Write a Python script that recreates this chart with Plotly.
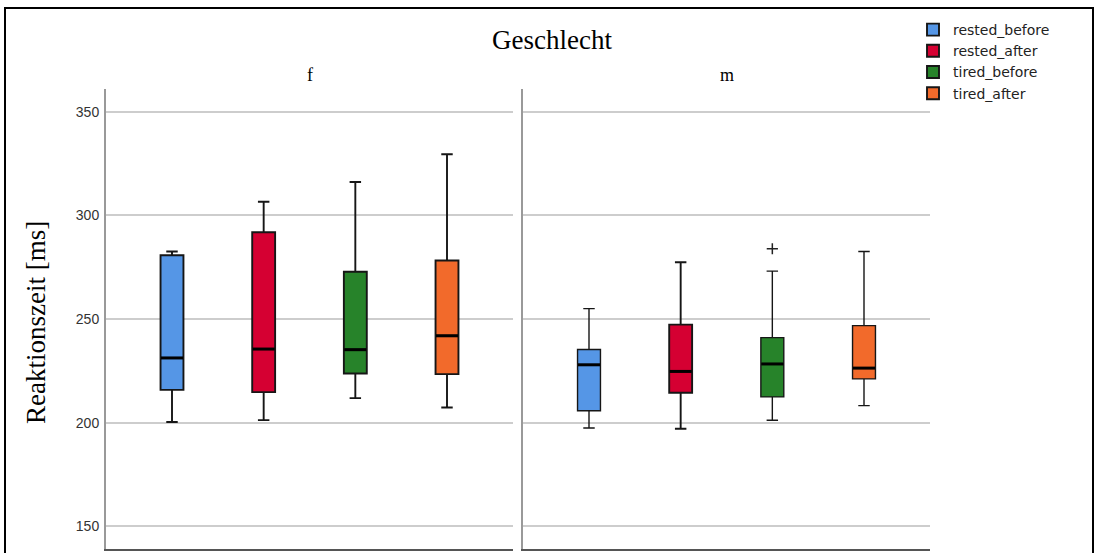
import plotly.graph_objects as go

# ---- data ----
facets = ["f", "m"]
series = ["rested_before", "rested_after", "tired_before", "tired_after"]
colors = ["#5596E6", "#D50032", "#27832A", "#F26A2B"]

# per facet, per series
f_lower = [200.3, 201.2, 211.8, 207.3]
f_q1 = [215.8, 214.7, 223.7, 223.4]
f_median = [231.2, 235.5, 235.2, 241.9]
f_q3 = [280.8, 291.9, 272.8, 278.2]
f_upper = [282.6, 306.6, 316.1, 329.5]

m_lower = [197.4, 197.0, 201.1, 208.2]
m_q1 = [205.7, 214.4, 212.4, 221.1]
m_median = [227.9, 224.7, 228.3, 226.3]
m_q3 = [235.3, 247.3, 241.0, 246.8]
m_upper = [255.0, 277.4, 273.1, 282.6]

# outliers: (facet, series index, value)
outlier_facet = ["m"]
outlier_series = [2]
outlier_value = [283.9]

y_ticks = [150, 200, 250, 300, 350]

stats = {
    "f": (f_lower, f_q1, f_median, f_q3, f_upper),
    "m": (m_lower, m_q1, m_median, m_q3, m_upper),
}

BOX_W = 0.25

fig = go.Figure()
axes = {"f": ("x", "y"), "m": ("x2", "y2")}

for fi, fac in enumerate(facets):
    lo, q1, med, q3, up = stats[fac]
    xa, ya = axes[fac]
    for si, s in enumerate(series):
        lw = 1.9 if (fac == "f" or si == 1) else 1.4
        fig.add_trace(go.Box(
            x=[si], q1=[q1[si]], median=[med[si]], q3=[q3[si]],
            lowerfence=[lo[si]], upperfence=[up[si]],
            name=s, legendgroup=s, showlegend=(fi == 0),
            fillcolor=colors[si],
            line=dict(color="#161616", width=lw),
            width=BOX_W, whiskerwidth=0.5,
            boxpoints=False, hoverinfo="skip",
            xaxis=xa, yaxis=ya,
        ))
        # thicker median bar, as in the reference
        fig.add_trace(go.Scatter(
            x=[si - BOX_W / 2 * 0.96, si + BOX_W / 2 * 0.96], y=[med[si], med[si]],
            mode="lines", line=dict(color="black", width=3),
            showlegend=False, hoverinfo="skip", xaxis=xa, yaxis=ya,
        ))

for fac, si, v in zip(outlier_facet, outlier_series, outlier_value):
    xa, ya = axes[fac]
    fig.add_trace(go.Scatter(
        x=[si], y=[v], mode="markers", showlegend=False, hoverinfo="skip",
        marker=dict(symbol="cross-thin", size=8, line=dict(color="#222222", width=1.5)),
        xaxis=xa, yaxis=ya,
    ))

W, H = 1097, 553
ml, mr, mt, mb = 106, 167, 89, 4
pw = W - ml - mr
ph = H - mt - mb

def px_x(p):
    return (p - ml) / pw

def px_y(p):
    return (H - mb - p) / ph

yrange = [139, 361]
xrange = [-0.72, 3.72]
gap = 10 / pw

common_x = dict(range=xrange, showticklabels=False, showgrid=False, zeroline=False,
                showline=True, linecolor="#555555", linewidth=1.5, ticks="")
fig.update_layout(
    xaxis=dict(domain=[0, 0.5 - gap / 2], **common_x),
    xaxis2=dict(domain=[0.5 + gap / 2, 1], **common_x),
    yaxis=dict(range=yrange, tickvals=y_ticks, showgrid=True, gridcolor="#CDCDCD", gridwidth=1.5,
               zeroline=False, showline=True, linecolor="#999999", linewidth=2,
               ticks="", ticklabelstandoff=2,
               tickfont=dict(family="Liberation Sans, Arial", size=14, color="#333333")),
    yaxis2=dict(range=yrange, tickvals=y_ticks, showgrid=True, gridcolor="#CDCDCD", gridwidth=1.5,
                zeroline=False, showline=True, linecolor="#999999", linewidth=2,
                showticklabels=False, ticks="", anchor="x2"),
    boxmode="overlay",
    width=W, height=H,
    margin=dict(l=ml, r=mr, t=mt, b=mb),
    paper_bgcolor="white", plot_bgcolor="white",
    showlegend=True,
    legend=dict(x=px_x(913), y=px_y(14), xanchor="left", yanchor="top",
                font=dict(family="DejaVu Sans", size=14, color="#222222"),
                bgcolor="rgba(0,0,0,0)", tracegroupgap=0, itemwidth=30),
)

ann_font = "Liberation Serif, Times New Roman"
fig.add_annotation(text="Geschlecht", x=px_x(552), y=px_y(40), xref="paper", yref="paper",
                   xanchor="center", yanchor="middle", showarrow=False,
                   font=dict(family=ann_font, size=27, color="black"))
fig.add_annotation(text="f", x=px_x(310), y=px_y(75), xref="paper", yref="paper",
                   xanchor="center", yanchor="middle", showarrow=False,
                   font=dict(family=ann_font, size=18, color="black"))
fig.add_annotation(text="m", x=px_x(727), y=px_y(75), xref="paper", yref="paper",
                   xanchor="center", yanchor="middle", showarrow=False,
                   font=dict(family=ann_font, size=18, color="black"))
fig.add_annotation(text="Reaktionszeit [ms]", x=px_x(36), y=px_y(323), xref="paper", yref="paper",
                   xanchor="center", yanchor="middle", textangle=-90, showarrow=False,
                   font=dict(family=ann_font, size=27, color="black"))

fig.add_shape(type="rect", xref="paper", yref="paper",
              x0=px_x(5), x1=px_x(1093), y0=px_y(600), y1=px_y(8),
              line=dict(color="black", width=2), fillcolor="rgba(0,0,0,0)", layer="above")

fig.write_html("out.html", config={"displayModeBar": False},
               post_script="document.body.style.margin='0px';")
